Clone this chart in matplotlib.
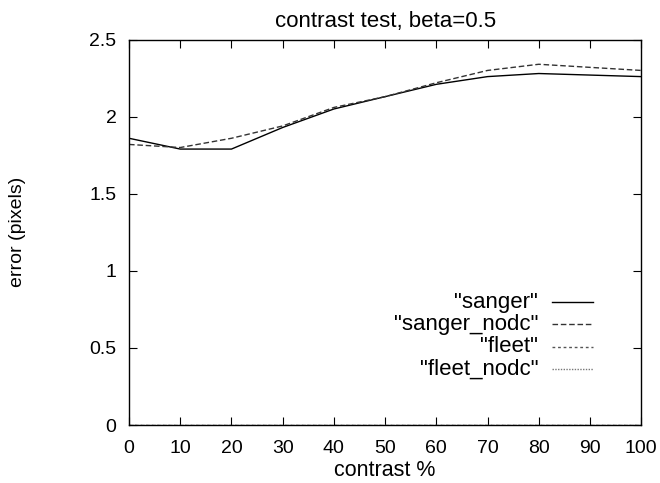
import numpy as np
import matplotlib
matplotlib.use("Agg")
import matplotlib.pyplot as plt
from matplotlib.lines import Line2D

plt.rcParams['font.family'] = ['Liberation Sans', 'DejaVu Sans']

contrast = [0, 10, 20, 30, 40, 50, 60, 70, 80, 90, 100]
sanger = [1.86, 1.79, 1.79, 1.93, 2.05, 2.13, 2.21, 2.26, 2.28, 2.27, 2.26]
sanger_nodc = [1.82, 1.80, 1.86, 1.94, 2.06, 2.13, 2.22, 2.30, 2.34, 2.32, 2.30]
fleet = [0, 0, 0, 0, 0, 0, 0, 0, 0, 0, 0]
fleet_nodc = [0, 0, 0, 0, 0, 0, 0, 0, 0, 0, 0]

labels = ['"sanger"', '"sanger_nodc"', '"fleet"', '"fleet_nodc"']
styles = ['-', (0, (4, 2)), (0, (2, 2)), (0, (1, 1))]
colors = ['black', '#333333', '#555555', '#777777']
series = [sanger, sanger_nodc, fleet, fleet_nodc]

fig = plt.figure(figsize=(6.6, 4.83), dpi=100)
ax = fig.add_axes([0.1955, 0.120, 0.776, 0.798])

for ys, ls, col in zip(series, styles, colors):
    ax.plot(contrast, ys, color=col, linestyle=ls, linewidth=1.0)

ax.set_xlim(0, 100)
ax.set_ylim(0, 2.5)
ax.set_xticks(np.arange(0, 101, 10))
ax.set_yticks([0, 0.5, 1, 1.5, 2, 2.5])
ax.set_yticklabels(['0', '0.5', '1', '1.5', '2', '2.5'])
ax.tick_params(direction='in', length=6, width=0.8, top=True, right=True,
               labelsize=14)
ax.tick_params(axis='x', pad=11)
ax.tick_params(axis='y', pad=9)
for s in ax.spines.values():
    s.set_linewidth(1.0)

ax.set_title('contrast test, beta=0.5', fontsize=16, pad=9)
ax.set_xlabel('contrast %', fontsize=15.5, va='center')
ax.set_ylabel('error (pixels)', fontsize=14, va='center')
ax.xaxis.set_label_coords(0.5, -0.117)
ax.yaxis.set_label_coords(-0.217, 0.5)

# gnuplot-style key, text right-aligned left of the sample line
y0, dy = 0.319, 0.058
for i, (lab, ls, col) in enumerate(zip(labels, styles, colors)):
    y = y0 - i * dy
    ax.text(0.799, y, lab, transform=ax.transAxes, ha='right', va='center', fontsize=16)
    ax.add_line(Line2D([0.826, 0.906], [y, y], transform=ax.transAxes,
                       color=col, linestyle=ls, linewidth=1.0))

fig.savefig('out.png', dpi=100)
